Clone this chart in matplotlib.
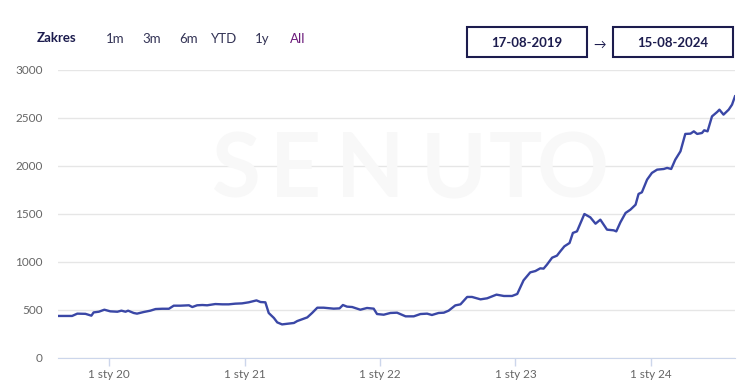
import matplotlib
matplotlib.use("Agg")
import matplotlib.pyplot as plt
import matplotlib.dates as mdates
from matplotlib.patches import Rectangle
import pandas as pd

# dane: dni od 17-08-2019 i wartości zakresu widoczności
START = "2019-08-17"
days = [0, 38, 52, 74, 90, 96, 110, 125, 141, 160, 171, 182, 189, 204, 213, 231,
        249, 263, 281, 299, 312, 330, 353, 362, 375, 389, 402, 424, 443, 460, 478,
        496, 514, 535, 546, 559, 568, 582, 591, 604, 636, 645, 672, 685, 699, 716,
        743, 759, 768, 779, 793, 815, 833, 851, 860, 878, 896, 914, 937, 959, 977,
        995, 1008, 1026, 1040, 1053, 1071, 1085, 1103, 1116, 1139, 1157, 1182, 1202,
        1224, 1238, 1255, 1273, 1287, 1300, 1309, 1318, 1332, 1345, 1354, 1365, 1379,
        1388, 1399, 1419, 1435, 1449, 1462, 1480, 1498, 1505, 1516, 1530, 1543, 1557,
        1565, 1574, 1588, 1601, 1615, 1633, 1642, 1653, 1664, 1678, 1691, 1705, 1714,
        1723, 1736, 1742, 1751, 1763, 1777, 1783, 1794, 1808, 1817, 1825]
values = [438, 438, 462, 460, 441, 475, 482, 503, 486, 482, 493, 482, 493, 469, 462, 479,
          493, 510, 513, 513, 545, 545, 549, 531, 549, 552, 549, 562, 559, 559, 566,
          569, 580, 600, 583, 580, 469, 417, 371, 350, 365, 385, 423, 469, 524, 524,
          514, 517, 552, 535, 531, 503, 521, 514, 458, 451, 469, 472, 434, 434, 458,
          462, 448, 469, 472, 493, 548, 559, 636, 636, 611, 622, 660, 646,
          646, 667, 809, 892, 906, 934, 931, 972, 1045, 1066, 1111, 1163, 1198,
          1303, 1319, 1500, 1465, 1399, 1441, 1337, 1330, 1319, 1413, 1511, 1545, 1597,
          1709, 1726, 1858, 1928, 1962, 1969, 1980, 1969, 2066, 2153, 2334, 2337, 2361,
          2334, 2344, 2372, 2361, 2517, 2563, 2587, 2535, 2587, 2639, 2726]
range_buttons = ["1m", "3m", "6m", "YTD", "1y", "All"]
date_from = "17-08-2019"
date_to = "15-08-2024"
yticks = [0, 500, 1000, 1500, 2000, 2500, 3000]

dates = pd.Timestamp(START) + pd.to_timedelta(days, unit="D")

plt.rcParams["font.family"] = ["Lato", "DejaVu Sans"]

NAVY = "#1c1c4e"
LINE = "#3a47a6"
GRID = "#e6e6e6"
AXIS = "#ccd6eb"
LABEL = "#666666"

fig = plt.figure(figsize=(7.51, 3.89), dpi=100, facecolor="white")
ax = fig.add_axes([58 / 751, 31 / 389, 677 / 751, 288 / 389])

# znak wodny
for ch, x in zip("SENUTO", [236, 295, 370, 454, 515, 573]):
    fig.text(x / 751, 1 - 171 / 389, ch, ha="center", va="center",
             fontsize=64, weight="bold", color="#f8f8f8", zorder=0)
ax.set_facecolor("none")

ax.plot(dates, values, color=LINE, lw=1.7, solid_joinstyle="round", zorder=3)

ax.set_xlim(pd.Timestamp(START), pd.Timestamp(START) + pd.Timedelta(days=1825))
ax.set_ylim(0, 3000)
ax.set_yticks(yticks)
ax.grid(axis="y", color=GRID, lw=1)
ax.set_axisbelow(True)

ax.xaxis.set_major_locator(mdates.YearLocator())
ax.xaxis.set_major_formatter(mdates.DateFormatter("1 sty %y"))

for s in ["top", "right", "left"]:
    ax.spines[s].set_visible(False)
ax.spines["bottom"].set_color(AXIS)
ax.tick_params(axis="x", colors=AXIS, length=6, width=1, labelcolor=LABEL,
               labelsize=8.5, pad=2)
ax.tick_params(axis="y", length=0, labelcolor=LABEL, labelsize=8.5, pad=11)

# nagłówek
fig.text(37 / 751, 1 - 38 / 389, "Zakres", fontsize=9.5, weight="bold",
         color=NAVY, va="center")
for lbl, x in zip(range_buttons, [115, 152, 189, 224, 262, 298]):
    fig.text(x / 751, 1 - 39 / 389, lbl, fontsize=9.5, ha="center", va="center",
             color="#6b1a7a" if lbl == "All" else "#333355")

for x0, txt in [(467, date_from), (613, date_to)]:
    fig.patches.append(Rectangle((x0 / 751, 1 - 57 / 389), 120 / 751, 30 / 389,
                                 transform=fig.transFigure, fill=False,
                                 edgecolor=NAVY, lw=1.5))
    fig.text((x0 + 60) / 751, 1 - 43 / 389, txt, fontsize=9.5, weight="bold",
             ha="center", va="center", color=NAVY)
fig.text(600 / 751, 1 - 45 / 389, "→", fontsize=9, ha="center", va="center",
         color=NAVY)

fig.savefig("out.png", dpi=100, facecolor="white")
